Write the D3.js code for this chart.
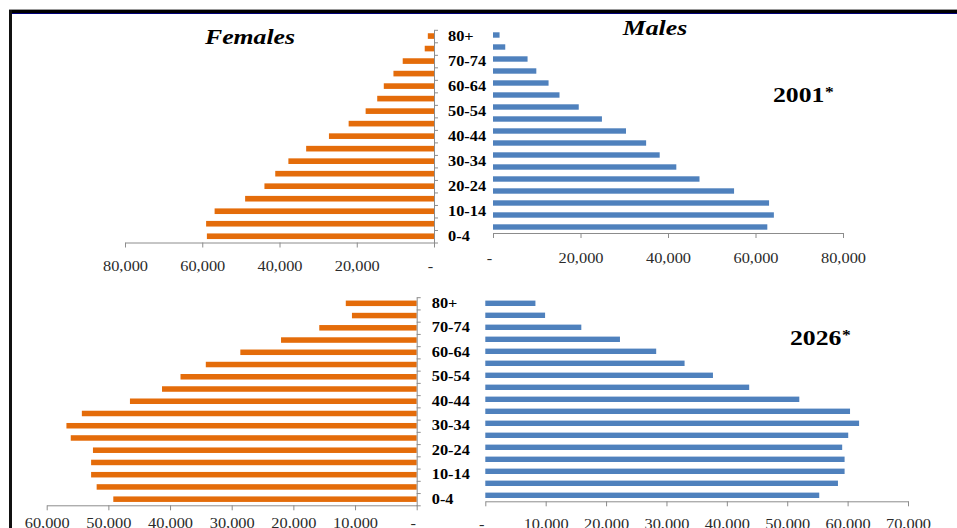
<!DOCTYPE html>
<html>
<head>
<meta charset="utf-8">
<script src="https://cdn.jsdelivr.net/npm/d3@7"></script>
<style>
    body { margin: 0; background: #fff; }
</style>
</head>
<body>
<script>
// age groups, bottom (youngest) to top
var ageGroups = ["0-4", "5-9", "10-14", "15-19", "20-24", "25-29", "30-34", "35-39", "40-44",
                 "45-49", "50-54", "55-59", "60-64", "65-69", "70-74", "75-79", "80+"];

var females2001 = [58800, 59000, 56800, 48900, 43900, 41100, 37700, 33100, 27200, 22100, 17700, 14700, 13000, 10500, 8100, 2400, 1600];
var males2001   = [62700, 64200, 63100, 55100, 47200, 41900, 38100, 35000, 30400, 24900, 19600, 15200, 12700, 9900, 7900, 2800, 1500];
var females2026 = [49200, 51900, 52800, 52800, 52500, 56100, 56800, 54300, 46500, 41300, 38300, 34200, 28600, 22000, 15800, 10500, 11500];
var males2026   = [55300, 58400, 59500, 59500, 59100, 60100, 61900, 60400, 52000, 43700, 37700, 33000, 28300, 22300, 15900, 9900, 8300];

var ticks2001 = [0, 20000, 40000, 60000, 80000];
var femaleTicks2026 = [0, 10000, 20000, 30000, 40000, 50000, 60000];
var maleTicks2026 = [0, 10000, 20000, 30000, 40000, 50000, 60000, 70000];

var svgWidth = 957;
var svgHeight = 528;
var stretch = 1.17;   // the picture is a bit wider than the fonts
var orange = "#E46C0A";
var blue = "#4F81BD";
var axisGrey = "#8c8c8c";
var serif = "'Liberation Serif', 'Times New Roman', serif";

var svg = d3.select("body").append("svg").attr("width", svgWidth).attr("height", svgHeight);

// frame
svg.append("line").attr("x1", 9).attr("x2", svgWidth).attr("y1", 9.5).attr("y2", 9.5).attr("stroke", "#999");
svg.append("rect").attr("x", 9).attr("y", 10).attr("width", svgWidth - 9).attr("height", 3).attr("fill", "#000");
svg.append("line").attr("x1", 12).attr("x2", svgWidth).attr("y1", 13.5).attr("y2", 13.5).attr("stroke", "#00007a");
svg.append("rect").attr("x", 9).attr("y", 10).attr("width", 3).attr("height", svgHeight - 10).attr("fill", "#111");

function tickText(v) { return v === 0 ? "-" : d3.format(",")(v); }

function styleAxis(g, labelPad) {
    g.attr("font-family", serif).attr("font-size", 14);
    g.select(".domain").attr("stroke", axisGrey);
    g.selectAll(".tick line").attr("stroke", axisGrey);
    g.selectAll(".tick text")
        .attr("fill", "#2a2a2a")
        .attr("y", labelPad)
        .attr("transform", function(v) { return (v === 0 ? "translate(-4,0) " : "") + "scale(" + stretch + ",1)"; });
}

/***
 * Draws one side of a pyramid
 */
function drawSide(p) {
    var y = d3.scaleBand().domain(ageGroups.slice().reverse())
        .range([p.yTop, p.yBottom]).paddingInner(0.55).paddingOuter(0.275);
    var x = d3.scaleLinear().domain([0, p.max]).range([p.zero, p.end]);
    var yBottom = p.yBottom;

    svg.append("g").selectAll("rect").data(p.values).join("rect")
        .attr("x", function(d) { return Math.min(x(0), x(d)); })
        .attr("y", function(d, i) { return y(ageGroups[i]); })
        .attr("width", function(d) { return Math.abs(x(d) - x(0)); })
        .attr("height", y.bandwidth())
        .attr("fill", p.color);

    var ax = svg.append("g").attr("transform", "translate(0," + yBottom + ")")
        .call(d3.axisBottom(x).tickValues(p.ticks).tickSize(5).tickSizeOuter(0).tickFormat(tickText));
    styleAxis(ax, p.labelPad);

    if (p.female) {
        // vertical axis with marks between categories
        var yEdge = d3.scaleLinear().domain([0, ageGroups.length]).range([p.yBottom, p.yTop]);
        var vx = svg.append("g").attr("transform", "translate(" + p.zero + ",0)")
            .call(d3.axisRight(yEdge).tickValues(d3.range(ageGroups.length + 1)).tickSize(4).tickSizeOuter(0).tickFormat(""));
        vx.select(".domain").attr("stroke", axisGrey);
        vx.selectAll(".tick line").attr("stroke", axisGrey);

        // category labels, every other group
        var lx = svg.append("g").attr("transform", "translate(" + p.zero + ",0)")
            .call(d3.axisRight(y).tickValues(ageGroups.filter(function(d, i) { return i % 2 === 0; })).tickSize(0));
        lx.select(".domain").remove();
        lx.selectAll(".tick text")
            .attr("x", 0)
            .attr("transform", "translate(" + p.labelX + ",0) scale(" + stretch + ",1)")
            .attr("font-family", serif)
            .attr("font-size", 14)
            .attr("font-weight", "bold")
            .attr("fill", "#000");
    }
}

// 2001
drawSide({ female: true, values: females2001, color: orange, max: 80000, zero: 434, end: 125,
           yTop: 29.8, yBottom: 242.5, ticks: ticks2001, labelPad: 19, labelX: 14 });
drawSide({ female: false, values: males2001, color: blue, max: 80000, zero: 493, end: 843,
           yTop: 29, yBottom: 233, ticks: ticks2001, labelPad: 20 });

// 2026
drawSide({ female: true, values: females2026, color: orange, max: 60000, zero: 416.7, end: 46.7,
           yTop: 297.2, yBottom: 505.3, ticks: femaleTicks2026, labelPad: 13, labelX: 15 });
drawSide({ female: false, values: males2026, color: blue, max: 70000, zero: 485.3, end: 908,
           yTop: 297.3, yBottom: 501.3, ticks: maleTicks2026, labelPad: 18 });

// titles
function label(text, x, y, size, style, anchor) {
    svg.append("text")
        .attr("transform", "translate(" + x + "," + y + ") scale(" + stretch + ",1)")
        .attr("text-anchor", anchor || "start")
        .attr("font-family", serif)
        .attr("font-size", size)
        .attr("font-weight", "bold")
        .attr("font-style", style)
        .attr("fill", "#000")
        .text(text);
}

label("Females", 250, 44, 22, "italic", "middle");
label("Males", 655, 34.5, 22, "italic", "middle");
label("2001", 773, 102, 22, "normal");
label("*", 825, 97, 15, "normal");
label("2026", 790, 345, 22, "normal");
label("*", 842, 340, 15, "normal");
</script>
</body>
</html>
